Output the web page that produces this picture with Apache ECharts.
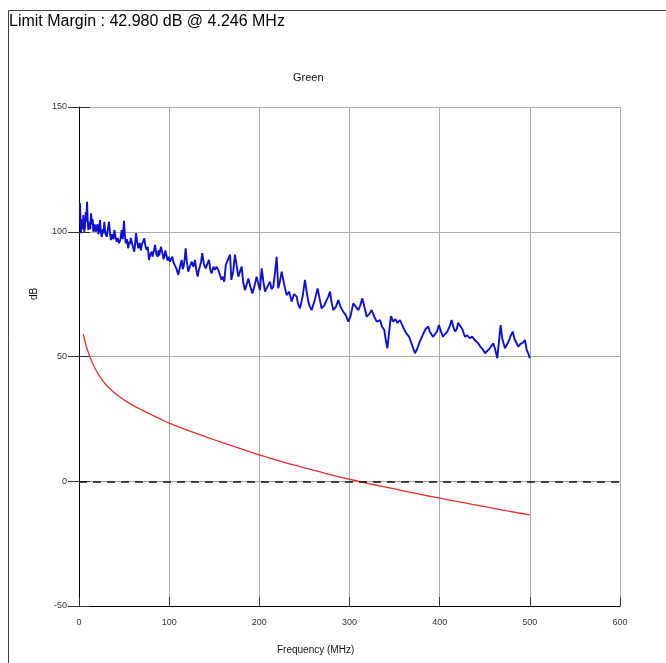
<!DOCTYPE html>
<html>
<head>
<meta charset="utf-8">
<script src="https://cdn.jsdelivr.net/npm/echarts@6/dist/echarts.min.js"></script>
<style>
html, body { margin: 0; padding: 0; background: #fff; }
#main { width: 666px; height: 663px; }
</style>
</head>
<body>
<div id="main"></div>
<script>
// measured trace, [MHz, dB]
var blueTrace = [
	[1.1, 111.4], [1.8, 103], [2.2, 99.4], [2.9, 105], [3.5, 104], [4.2, 101], [4.8, 106.7], [5.3, 103], [5.8, 100], [6.7, 102],
	[7.5, 108], [8.2, 104], [8.9, 112], [9.6, 105], [10.3, 100.7], [11, 103], [11.8, 104], [12.5, 101], [13.3, 107.4], [14.5, 103],
	[15.2, 105], [15.9, 100], [16.7, 102], [17.5, 103], [18.5, 100], [19.6, 101.4], [20.5, 103], [21.5, 99], [22.4, 101], [23.3, 104.7],
	[24.2, 100], [25.2, 98], [26.5, 101], [27.3, 99.5], [28.1, 104], [28.8, 101], [29.5, 99], [30.7, 98], [32, 101], [33.3, 104],
	[34.5, 99], [35.5, 96.7], [36.5, 99], [37.5, 98], [38.3, 97], [39.2, 100.7], [40.5, 98], [41.8, 96], [43, 97.5], [44.4, 95.4],
	[46, 97], [47.3, 100.7], [48.5, 97], [49.9, 104.4], [50.8, 99], [51.8, 95.4], [53, 97], [54.7, 93.4], [55.6, 96], [56.5, 95],
	[57.5, 97.5], [58.4, 96.7], [59.8, 94], [61.3, 92], [62.2, 95], [63.2, 99.4], [64.5, 96], [65.8, 93.4], [66.6, 94.5], [67.5, 95.5],
	[68.5, 92.5], [69.6, 94.7], [71, 95], [72.4, 97.4], [73.8, 94], [75.1, 92.7], [76.3, 94], [77.6, 88.7], [79, 91], [80.6, 92],
	[81.5, 90], [82.5, 90.5], [83.4, 93], [84.3, 94.7], [85.8, 91], [87.3, 90], [88.2, 92.5], [89, 90.5], [90.9, 94], [92.8, 91],
	[93.7, 89], [94.6, 90], [95.8, 92.5], [97, 92], [98.2, 88.5], [99.5, 90], [100.9, 88], [102.2, 89], [103.5, 90], [105, 87.5],
	[106.5, 86.7], [108.3, 85], [110.1, 82.7], [112, 86], [113.9, 88.7], [115, 85], [116, 86], [117.2, 89], [118.3, 93.4], [119.6, 88],
	[121.2, 84], [123, 86], [125, 88], [126.8, 86], [128.6, 88.7], [130, 85], [131.6, 82], [132.8, 84.5], [134, 86], [135.4, 88],
	[136.7, 91.4], [138.5, 87], [140.5, 85.3], [142.3, 87], [144.2, 88.7], [145.6, 85], [147.1, 83.3], [149, 86], [150.8, 84.7], [152.6, 86],
	[154.5, 84.7], [156.5, 82.5], [158.2, 80.7], [159.7, 82], [161.1, 80], [162.8, 86.7], [164.9, 86.7], [167.5, 90.8], [169, 80.7], [171, 84],
	[173, 90.8], [175, 86], [176.7, 82], [178.5, 84], [180.4, 86], [182, 80], [184, 76.6], [186, 79], [187.8, 81.3], [190, 78],
	[192.2, 75.3], [194.5, 78], [197, 82], [199, 79], [200.7, 76.6], [202.6, 85.3], [204.5, 80], [206.3, 76], [209, 78], [211.8, 80],
	[213.5, 77], [215.5, 78], [217.5, 84], [219.2, 90], [221, 77.3], [222.8, 80], [224.8, 84], [227.5, 79], [230.3, 74.6], [233, 76],
	[235.8, 72], [238.5, 75], [241.4, 74], [243, 71], [245, 69.3], [248, 74], [250.6, 80.7], [252.5, 76], [254.3, 72], [256, 70],
	[258, 68.6], [261, 72], [264.7, 77.3], [267, 73], [269, 69.3], [272, 70.5], [274.6, 72.6], [276.5, 74], [278.4, 76], [280, 72],
	[282, 68.6], [285, 70], [287.6, 72.6], [290, 70], [293, 68], [296, 66.5], [298.7, 64], [301, 66], [304.2, 71.3], [307, 70],
	[309.7, 68.6], [312, 70.5], [314.2, 73.3], [316.5, 70], [319, 66], [322, 67], [324.6, 68.6], [327.5, 66], [330.2, 64], [333.8, 64.6],
	[336, 62], [338.6, 60.6], [340.5, 56], [342, 53.3], [344, 60], [346, 66.2], [348.5, 64], [351, 65], [353, 63.5], [356, 64.6],
	[358, 63], [360.5, 61], [363, 59.3], [366, 58], [369, 55], [372.6, 51.3], [375, 53], [378, 56], [382, 59.3], [384.5, 61],
	[387.4, 62], [389, 60], [392.6, 57.9], [395, 59], [397, 60], [399.2, 62.6], [401.5, 60], [403.7, 57.9], [406, 59], [408.5, 60],
	[411, 62], [413.3, 64.6], [415, 62], [417, 60], [419, 61], [420.5, 63.5], [422.5, 64], [425, 61], [428, 57.9], [430.5, 58.5],
	[433.6, 57.3], [436, 58], [439, 56.5], [442.8, 55.3], [445, 54], [447.5, 53], [450.3, 51.3], [452.5, 51.8], [455, 53], [457, 54],
	[459.5, 55.3], [461.5, 53], [463.9, 49.3], [465.5, 55], [467.6, 62.6], [469.5, 57], [472.4, 53.3], [475, 55], [477.5, 57], [479, 58.5],
	[481, 60], [483, 57], [485, 55.5], [487.2, 54], [489.5, 55], [492, 55.5], [494.6, 56.6], [496.5, 52.6], [498, 51.5], [500, 49.3]
];

// limit curve, [MHz, dB]
var limitCurve = [
	[4.8, 59], [8, 54.2], [12, 50], [17, 45.8], [23, 42], [30, 38.7], [38, 35.9], [45, 33.9], [53, 31.9], [60, 30.4],
	[70, 28.5], [80, 26.7], [90, 25], [100, 23.3], [120, 20.5], [140, 17.9], [160, 15.4], [180, 13], [200, 10.6], [225, 7.9],
	[250, 5.4], [275, 3], [300, 0.8], [325, -1.2], [350, -3.1], [375, -5], [400, -6.8], [425, -8.5], [450, -10.2], [475, -11.9],
	[500, -13.5]
];

var xTicks = [0, 600, 100]; // min, max, step
var yTicks = [-50, 150, 50];

var titleText = 'Limit Margin : 42.980 dB @ 4.246 MHz';
var subText = 'Green';
var xName = 'Frequency (MHz)';
var yName = 'dB';

var myChart = echarts.init(document.getElementById('main'));
var axisFont = 'Liberation Sans, Arial, sans-serif';
var option = {
	animation: false,
	backgroundColor: '#fff',
	graphic: [{
		type: 'rect',
		left: 6,
		top: 8,
		shape: { width: 700, height: 700 },
		style: { fill: 'none', stroke: '#444', lineWidth: 1 },
		z: 0
	}, {
		type: 'text',
		left: 9,
		top: 14,
		style: { text: titleText, font: '16px ' + axisFont, fill: '#000' }
	}, {
		type: 'text',
		left: 293,
		top: 72,
		style: { text: subText, font: '11px ' + axisFont, fill: '#111' }
	}, {
		type: 'text',
		left: 277,
		top: 645,
		style: { text: xName, font: '10px ' + axisFont, fill: '#111' }
	}, {
		type: 'text',
		x: 29,
		y: 300,
		rotation: Math.PI / 2,
		style: { text: yName, font: '10px ' + axisFont, fill: '#111' }
	}], //外框、标题和轴名
	grid: {
		left: 79,
		right: 46,
		top: 107,
		bottom: 57
	},
	xAxis: [{
		type: 'value',
		min: xTicks[0],
		max: xTicks[1],
		interval: xTicks[2],
		axisLine: { onZero: false, lineStyle: { color: '#000', width: 1 } },
		axisTick: { inside: true, length: 9, lineStyle: { color: '#333' } },
		axisLabel: { fontSize: 9, color: '#333', margin: 12, fontFamily: axisFont },
		splitLine: { show: true, lineStyle: { color: '#aaa', width: 1 } }
	}],
	yAxis: [{
		type: 'value',
		min: yTicks[0],
		max: yTicks[1],
		interval: yTicks[2],
		axisLine: { show: true, onZero: false, lineStyle: { color: '#000', width: 1 } },
		axisTick: { show: true, length: 11, lineStyle: { color: '#333' } },
		axisLabel: { fontSize: 9, color: '#333', margin: 12, fontFamily: axisFont },
		splitLine: { show: true, lineStyle: { color: '#aaa', width: 1 } }
	}, {
		type: 'value',
		position: 'left',
		min: yTicks[0],
		max: yTicks[1],
		interval: yTicks[2],
		axisLine: { show: false },
		axisTick: { show: true, inside: true, length: 11, lineStyle: { color: '#333' } },
		axisLabel: { show: false },
		splitLine: { show: false }
	}], //内外刻度
	series: [{
		name: 'Green',
		type: 'line',
		data: blueTrace,
		showSymbol: false,
		lineStyle: { color: '#1010d4', width: 1.9 },
		z: 3
	}, {
		name: 'Limit',
		type: 'line',
		data: limitCurve,
		showSymbol: false,
		smooth: 0.4,
		lineStyle: { color: '#e8302c', width: 1.3 },
		markLine: {
			silent: true,
			symbol: 'none',
			label: { show: false },
			lineStyle: { color: '#111', type: [8, 6], width: 1.5 },
			data: [{ yAxis: 0 }]
		},
		z: 4
	}]
};
myChart.setOption(option);
</script>
</body>
</html>
